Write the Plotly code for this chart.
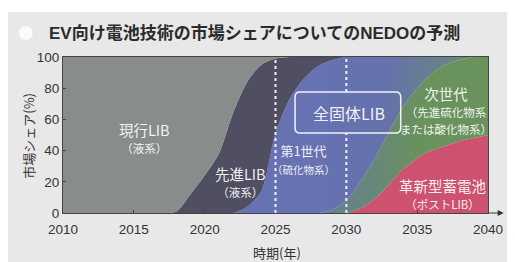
import plotly.graph_objects as go

years = list(range(2010, 2041))
# stacked shares (%) per year, bottom to top
post_lib = [0]*20 + [0, 3, 9, 18, 28, 35, 40, 43, 46, 48, 50]
next_gen = [0]*18 + [0, 2, 8, 17, 26, 34, 40, 45, 49, 52, 52, 52, 50]
ssb_gen1 = [0]*12 + [0, 4, 14, 51, 73, 86, 94, 96, 92, 80, 65, 48, 32, 20, 11, 5, 2, 0, 0]
adv_lib = [0]*7 + [0, 1, 12, 24, 38, 64, 80, 81, 48, 27, 14, 6, 2, 0] + [0]*10
cur_lib = [100]*8 + [99, 88, 76, 62, 36, 16, 5, 1, 0] + [0]*14

x_ticks = [2010, 2015, 2020, 2025, 2030, 2035, 2040]
y_ticks = [0, 20, 40, 60, 80, 100]

FONT = "Liberation Sans, Noto Sans CJK JP, sans-serif"
JP = "Noto Sans CJK JP, sans-serif"

fig = go.Figure()

def area(name, vals, color, grad=None):
    kw = dict(x=years, y=vals, name=name, stackgroup="one", mode="lines",
              line=dict(width=0, shape="spline", smoothing=0.8),
              fillcolor=color, hoverinfo="skip")
    if grad:
        kw["fillgradient"] = grad
    fig.add_trace(go.Scatter(**kw))

BLUE = "rgb(102,114,178)"
GREEN = "rgb(106,146,92)"
area("革新型蓄電池", post_lib, "rgb(205,82,112)")
area("次世代", next_gen, GREEN,
     dict(type="horizontal", start=2028, stop=2035,
          colorscale=[[0, "rgb(100,126,150)"], [1, GREEN]]))
area("第1世代", ssb_gen1, BLUE,
     dict(type="horizontal", start=2027, stop=2039,
          colorscale=[[0, BLUE], [0.45, "rgb(102,114,172)"], [1, "rgb(106,142,108)"]]))
area("先進LIB", adv_lib, "rgb(80,79,98)")
area("現行LIB", cur_lib, "rgb(136,140,138)")

# dashed white guide lines
fig.add_shape(type="line", x0=2025, x1=2025, y0=0, y1=100, xref="x", yref="y",
              line=dict(color="rgba(255,255,255,0.9)", width=2, dash="3px,3px"))
for (y0, y1) in ((0, 51.3), (77.6, 100)):
    fig.add_shape(type="line", x0=2030, x1=2030, y0=y0, y1=y1, xref="x", yref="y",
                  line=dict(color="rgba(255,255,255,0.9)", width=2, dash="3px,3px"))

# rounded box around 全固体LIB
bx0, bx1, by0, by1, rx, ry = 2026.38, 2033.84, 51.3, 77.6, 0.35, 3.2
path = (f"M {bx0+rx},{by1} L {bx1-rx},{by1} Q {bx1},{by1} {bx1},{by1-ry} "
        f"L {bx1},{by0+ry} Q {bx1},{by0} {bx1-rx},{by0} L {bx0+rx},{by0} "
        f"Q {bx0},{by0} {bx0},{by0+ry} L {bx0},{by1-ry} Q {bx0},{by1} {bx0+rx},{by1} Z")
fig.add_shape(type="path", path=path, xref="x", yref="y",
              line=dict(color="rgba(255,255,255,0.9)", width=1.5))

def sz(t, s):
    return f"<span style='font-size:{s}px'>{t}</span>"

# (text, x, y, base size -> sets line spacing)
labels = [
    (sz("現行LIB", 14.5) + "<br>" + sz("（液系）", 11.5), 2015.75, 48.1, 13.2),
    (sz("先進LIB", 14.5) + "<br>" + sz("（液系）", 11.5), 2022.55, 20.2, 13.2),
    (sz("第1世代", 13) + "<br>" + sz("（硫化物系）", 10.5), 2026.95, 34.6, 13.5),
    ("全固体LIB", 2030.18, 64.1, 16),
    (sz("次世代", 14.5) + "<br>" + sz("（先進硫化物系", 11.5) + "<br>"
     + sz("または酸化物系）", 11.5), 2037.05, 66.0, 13.2),
    (sz("革新型蓄電池", 14.5) + "<br>" + sz("（ポストLIB）", 11.5), 2036.8, 12.5, 13.2),
]
for t, x, y, s in labels:
    fig.add_annotation(x=x, y=y, xref="x", yref="y", text=t, showarrow=False,
                       xanchor="center", yanchor="middle",
                       font=dict(family=JP, size=s, color="rgba(255,255,255,0.92)"))

# title, axis titles, arrow (paper coords relative to plot area)
fig.add_annotation(x=(47-63)/434, y=(213-33)/156, xref="paper", yref="paper",
                   xanchor="left", yanchor="middle", showarrow=False,
                   text="EV向け電池技術の市場シェアについてのNEDOの予測",
                   font=dict(family=FONT, size=17, color="#2b2b2b", weight="bold"))
fig.add_annotation(x=(27-63)/434, y=(213-136)/156, xref="paper", yref="paper",
                   xanchor="center", yanchor="middle", textangle=-90,
                   showarrow=False, text="市場シェア(%)",
                   font=dict(family=JP, size=13, color="#333"))
fig.add_annotation(x=(282-63)/434, y=(213-252)/156, xref="paper", yref="paper",
                   xanchor="center", yanchor="middle",
                   showarrow=False, text="時期(年)",
                   font=dict(family=JP, size=13, color="#333"))
fig.add_annotation(x=(513-63)/434, y=0, xref="paper", yref="paper", text="",
                   showarrow=True, ax=-16, ay=0, arrowhead=2, arrowsize=1,
                   arrowwidth=1.2, arrowcolor="#333")

# white strip at the top of the page, and faint title icon
fig.add_shape(type="rect", xref="paper", yref="paper", layer="below",
              x0=-0.3, x1=1.2, y0=(213-12)/156, y1=1.5,
              fillcolor="white", line=dict(width=0))
fig.add_shape(type="circle", xref="paper", yref="paper",
              x0=(18-63)/434, x1=(32-63)/434, y0=(213-40)/156, y1=(213-26)/156,
              fillcolor="rgba(255,255,255,0.8)", line=dict(width=0))

fig.update_layout(
    width=507, height=254,
    margin=dict(l=55, r=18, t=49, b=49),
    paper_bgcolor="#e8e8e8", plot_bgcolor="#e8e8e8",
    showlegend=False,
    font=dict(family=FONT, size=13, color="#333"),
)
fig.update_xaxes(range=[2010, 2040], tickvals=x_ticks, ticks="inside", ticklen=3,
                 tickcolor="#444", showline=True, mirror=True, linecolor="#444",
                 linewidth=1, showgrid=False, zeroline=False, ticklabelstandoff=4,
                 tickfont=dict(size=13.5, color="#333"))
fig.update_yaxes(range=[0, 100], tickvals=y_ticks, ticks="inside", ticklen=3,
                 tickcolor="#444", showline=True, mirror=True, linecolor="#444",
                 linewidth=1, showgrid=False, zeroline=False,
                 tickfont=dict(size=13.5, color="#333"))

fig.write_html("out.html")
